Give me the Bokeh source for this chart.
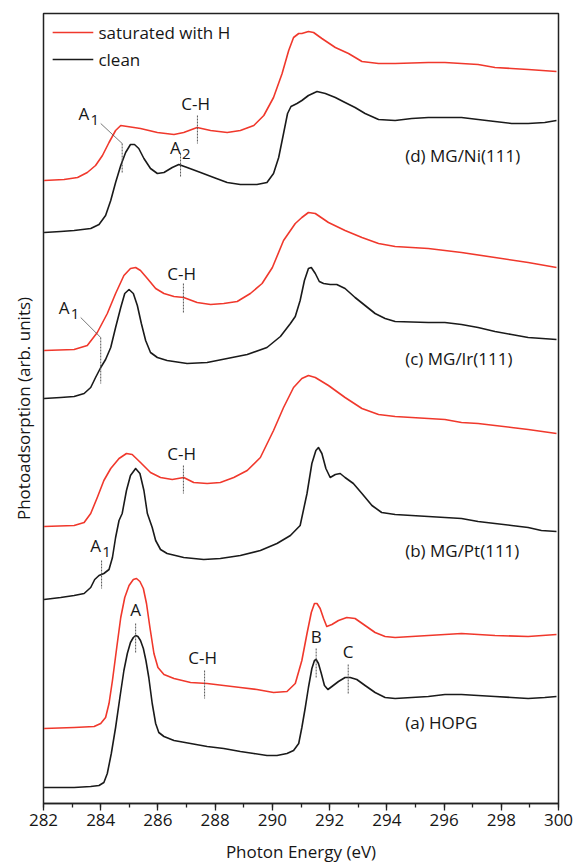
from bokeh.plotting import figure
from bokeh.models import Range1d, FixedTicker
from bokeh.core.properties import value
from bokeh.embed import file_html
from bokeh.resources import INLINE

FONT = "Open Sans"
RED = "#f0382c"
BLACK = "#1a1a1a"
TXT = "#161616"

# ---- spectra: photon energy (eV) and intensity (arb. units, vertically offset per sample) ----
# (d) MG/Ni(111)
d_sat_E = [282.02, 282.72, 283.19, 283.53, 283.82, 284.06, 284.29, 284.52, 284.70, 284.93, 285.39,
           285.98, 286.56, 286.90, 287.37, 287.84, 288.42, 288.88, 289.35, 289.70, 290.04, 290.34,
           290.57, 290.74, 290.92, 291.03, 291.26, 291.44, 291.73, 292.20, 292.66, 293.13, 293.71,
           294.29, 295.45, 296.03, 296.61, 297.19, 297.78, 298.36, 298.94, 299.93]
d_sat_I = [623, 624, 626, 631, 638, 648, 661, 673, 678, 677, 675, 671, 669, 671, 676, 673, 671,
           673, 678, 688, 706, 730, 753, 766, 770, 770, 772, 771, 765, 756, 750, 742, 740, 740,
           741, 741, 740, 739, 736, 735, 734, 732]

d_cln_E = [282.02, 282.60, 283.07, 283.65, 283.94, 284.17, 284.35, 284.52, 284.70, 284.87, 285.04,
           285.18, 285.33, 285.51, 285.74, 285.98, 286.21, 286.50, 286.73, 287.02, 287.49, 287.95,
           288.42, 288.88, 289.46, 289.81, 290.04, 290.22, 290.39, 290.53, 290.65, 290.86, 291.03,
           291.26, 291.56, 291.85, 292.20, 292.54, 292.89, 293.24, 293.71, 294.29, 294.87, 295.45,
           296.03, 296.61, 297.19, 297.78, 298.36, 298.94, 299.52, 299.93]
d_cln_I = [571, 572, 573, 575, 579, 588, 603, 621, 638, 651, 659, 659, 655, 645, 635, 630, 631,
           636, 639, 636, 631, 626, 621, 619, 619, 621, 630, 646, 670, 690, 697, 700, 703, 708,
           712, 710, 706, 701, 696, 690, 684, 683, 685, 686, 686, 686, 684, 682, 680, 680, 681, 683]

# (c) MG/Ir(111)
c_sat_E = [282.02, 283.07, 283.53, 283.88, 284.23, 284.52, 284.81, 285.04, 285.22, 285.39, 285.63,
           285.92, 286.21, 286.56, 286.90, 287.37, 287.84, 288.30, 288.77, 289.23, 289.64, 290.00,
           290.39, 290.80, 291.03, 291.26, 291.50, 291.96, 292.54, 293.13, 293.71, 294.29, 295.45,
           296.61, 297.78, 298.94, 299.93]
c_sat_I = [453, 454, 458, 471, 490, 510, 528, 535, 536, 533, 525, 515, 510, 507, 506, 501, 499,
           500, 502, 510, 520, 536, 563, 580, 586, 591, 590, 581, 573, 566, 560, 557, 555, 551,
           546, 541, 536]

c_cln_E = [282.02, 282.60, 283.07, 283.42, 283.65, 283.82, 284.00, 284.17, 284.35, 284.52, 284.70,
           284.84, 284.99, 285.14, 285.28, 285.42, 285.57, 285.74, 285.98, 286.32, 287.02, 287.72,
           288.42, 289.12, 289.81, 290.28, 290.63, 290.80, 290.97, 291.12, 291.26, 291.36, 291.50,
           291.64, 291.79, 292.02, 292.25, 292.54, 292.89, 293.24, 293.59, 293.94, 294.29, 295.45,
           296.03, 296.61, 297.19, 297.78, 298.36, 298.94, 299.93]
c_cln_I = [405, 406, 407, 410, 416, 426, 436, 444, 456, 476, 496, 510, 514, 510, 498, 480, 463,
           451, 446, 443, 440, 441, 445, 449, 456, 467, 480, 487, 503, 523, 535, 536, 530, 522,
           520, 519, 519, 515, 506, 498, 490, 485, 482, 481, 481, 479, 476, 472, 469, 466, 464]

# (b) MG/Pt(111)
b_sat_E = [282.02, 283.07, 283.42, 283.65, 283.88, 284.11, 284.35, 284.64, 284.90, 285.10, 285.39,
           285.74, 286.09, 286.50, 286.90, 287.25, 287.72, 288.18, 288.65, 289.12, 289.58, 290.04,
           290.39, 290.74, 291.03, 291.26, 291.50, 291.96, 292.54, 293.13, 293.71, 294.29, 294.87,
           295.45, 296.03, 296.61, 297.19, 297.78, 298.36, 298.94, 299.93]
b_sat_I = [277, 278, 281, 290, 306, 323, 335, 345, 350, 349, 341, 331, 326, 324, 326, 321, 320,
           321, 326, 333, 346, 373, 396, 416, 425, 428, 426, 418, 406, 395, 389, 387, 386, 385,
           384, 381, 380, 378, 376, 374, 370]

b_cln_E = [282.02, 282.60, 283.07, 283.42, 283.65, 283.79, 283.94, 284.11, 284.29, 284.41, 284.52,
           284.64, 284.75, 284.90, 285.04, 285.22, 285.37, 285.51, 285.63, 285.80, 285.92, 286.09,
           286.32, 286.90, 287.60, 288.18, 288.88, 289.58, 290.16, 290.63, 290.97, 291.21, 291.38,
           291.52, 291.61, 291.73, 291.87, 292.02, 292.20, 292.37, 292.54, 292.83, 293.13, 293.48,
           293.82, 294.29, 294.87, 295.45, 296.03, 296.61, 297.19, 297.78, 298.36, 298.94, 299.40,
           299.93]
b_cln_I = [204, 206, 208, 210, 216, 224, 228, 230, 234, 246, 266, 283, 290, 313, 328, 335, 330,
           313, 290, 276, 263, 254, 250, 246, 244, 245, 248, 253, 260, 268, 278, 310, 340, 353,
           356, 350, 335, 326, 329, 330, 326, 320, 310, 298, 291, 289, 288, 287, 286, 285, 282,
           280, 278, 276, 273, 272]

# (a) HOPG
a_sat_E = [282.02, 283.07, 283.77, 284.00, 284.17, 284.29, 284.41, 284.56, 284.70, 284.84, 284.99,
           285.14, 285.25, 285.37, 285.49, 285.60, 285.72, 285.86, 286.00, 286.21, 286.56, 287.14,
           287.72, 288.30, 288.88, 289.46, 290.04, 290.51, 290.80, 291.03, 291.21, 291.36, 291.47,
           291.56, 291.67, 291.79, 291.90, 292.08, 292.31, 292.60, 292.89, 293.24, 293.59, 293.94,
           294.29, 295.45, 296.61, 297.78, 298.94, 299.93]
a_sat_I = [75, 76, 77, 80, 86, 100, 123, 156, 186, 206, 218, 224, 225, 222, 215, 200, 176, 150,
           136, 129, 125, 121, 120, 118, 116, 114, 111, 112, 120, 143, 170, 191, 200, 200, 195,
           185, 177, 179, 183, 186, 185, 178, 171, 167, 166, 168, 170, 168, 167, 169]

a_cln_E = [282.02, 283.07, 283.65, 283.94, 284.11, 284.23, 284.37, 284.52, 284.67, 284.81, 284.93,
           285.04, 285.14, 285.22, 285.30, 285.39, 285.49, 285.58, 285.68, 285.80, 285.92, 286.03,
           286.21, 286.56, 287.14, 287.72, 288.30, 288.88, 289.35, 289.81, 290.16, 290.51, 290.74,
           290.92, 291.03, 291.15, 291.26, 291.38, 291.47, 291.53, 291.61, 291.71, 291.82, 291.94,
           292.08, 292.31, 292.54, 292.72, 292.95, 293.24, 293.59, 293.94, 294.29, 294.87, 295.45,
           296.03, 296.61, 297.19, 297.78, 298.36, 298.94, 299.52, 299.93]
a_cln_I = [16, 16, 17, 18, 21, 30, 50, 76, 106, 133, 150, 161, 166, 168, 167, 163, 155, 143, 126,
           100, 80, 71, 67, 63, 60, 57, 55, 52, 50, 48, 48, 50, 53, 60, 76, 96, 116, 135, 143, 144,
           140, 130, 118, 114, 117, 122, 126, 126, 124, 118, 111, 106, 105, 106, 107, 109, 109,
           108, 107, 106, 105, 106, 107]

# ---- sample labels ----
sample_text = ["(d) MG/Ni(111)", "(c) MG/Ir(111)", "(b) MG/Pt(111)", "(a) HOPG"]
sample_x = [294.64, 294.64, 294.64, 294.64]
sample_y = [648, 445, 253, 81]

# ---- legend ----
legend_text = ["saturated with H", "clean"]
legend_colors = [RED, BLACK]
legend_x0 = [282.32, 282.32]
legend_x1 = [283.74, 283.74]
legend_y = [771, 744]
legend_tx = [283.92, 283.92]

# ---- feature annotations ----
ann_text = ["A", "C-H", "A", "A", "C-H", "A", "C-H", "A", "C-H", "B", "C"]
ann_x = [283.41, 287.32, 286.61, 282.72, 286.83, 283.82, 286.83, 285.22, 287.56, 291.53, 292.65]
ann_y = [690, 700, 656, 496, 530, 258, 350, 194, 146, 167, 152]
sub_text = ["1", "2", "1", "1"]
sub_x = [283.41, 286.61, 282.72, 283.82]
sub_y = [690, 656, 496, 258]

# dotted feature markers
mark_x = [284.75, 287.38, 286.79, 284.0, 286.89, 284.03, 286.89, 285.22, 287.63, 291.53, 292.65]
mark_y0 = [660, 688, 650, 466, 520, 243, 338, 180, 133, 155, 139]
mark_y1 = [630, 660, 626, 420, 491, 215, 310, 151, 105, 126, 110]

# leader lines for A1 labels
lead_x0 = [284.0, 283.30]
lead_y0 = [680, 486]
lead_x1 = [284.75, 284.0]
lead_y1 = [660, 466]

x_ticks = [282, 284, 286, 288, 290, 292, 294, 296, 298, 300]
x_minor = list(range(282, 301))

p = figure(width=576, height=865, output_backend="svg", toolbar_location=None,
           x_range=Range1d(282, 300), y_range=Range1d(0, 790))
p.min_border_left = 43
p.min_border_right = 18
p.min_border_top = 13
p.min_border_bottom = 62
p.xgrid.visible = False
p.ygrid.visible = False
p.outline_line_color = "#222222"
p.outline_line_width = 1.5
p.background_fill_color = "white"
p.border_fill_color = "white"

xa = p.xaxis[0]
xa.ticker = FixedTicker(ticks=x_ticks, minor_ticks=x_minor)
xa.axis_line_color = "#222222"
xa.axis_line_width = 1.5
xa.major_tick_out = 7
xa.major_tick_in = 0
xa.minor_tick_out = 4
xa.minor_tick_in = 0
xa.major_tick_line_color = "#222222"
xa.minor_tick_line_color = "#222222"
xa.major_tick_line_width = 1.3
xa.minor_tick_line_width = 1.3
xa.major_label_text_font = FONT
xa.major_label_text_font_size = "17px"
xa.major_label_text_color = TXT
xa.major_label_standoff = 3
xa.axis_label = "Photon Energy (eV)"
xa.axis_label_text_font = FONT
xa.axis_label_text_font_size = "17px"
xa.axis_label_text_font_style = "normal"
xa.axis_label_text_color = TXT
xa.axis_label_standoff = 11

ya = p.yaxis[0]
ya.ticker = FixedTicker(ticks=[])
ya.axis_line_color = None
ya.major_tick_line_color = None
ya.minor_tick_line_color = None
ya.axis_label = "Photoadsorption (arb. units)"
ya.axis_label_text_font = FONT
ya.axis_label_text_font_size = "17px"
ya.axis_label_text_font_style = "normal"
ya.axis_label_text_color = TXT
ya.axis_label_standoff = 9

series = [
    (a_cln_E, a_cln_I, BLACK), (a_sat_E, a_sat_I, RED),
    (b_cln_E, b_cln_I, BLACK), (b_sat_E, b_sat_I, RED),
    (c_cln_E, c_cln_I, BLACK), (c_sat_E, c_sat_I, RED),
    (d_cln_E, d_cln_I, BLACK), (d_sat_E, d_sat_I, RED),
]
for xs, ys, col in series:
    p.line(xs, ys, line_color=col, line_width=1.6, line_join="round")

p.segment(x0=mark_x, y0=mark_y0, x1=mark_x, y1=mark_y1, line_color="#555555",
          line_width=1, line_dash="2 1")
p.segment(x0=lead_x0, y0=lead_y0, x1=lead_x1, y1=lead_y1, line_color="#555555", line_width=0.8)

p.text(x=ann_x, y=ann_y, text=ann_text, text_font=value(FONT), text_font_size=value("17px"),
       text_align="center", text_baseline="middle", text_color=TXT)
p.text(x=sub_x, y=sub_y, text=sub_text, text_font=value(FONT), text_font_size=value("15px"),
       text_align="center", text_baseline="middle", text_color=TXT, x_offset=11, y_offset=6)
p.text(x=sample_x, y=sample_y, text=sample_text, text_font=value(FONT),
       text_font_size=value("17px"), text_align="left", text_baseline="middle", text_color=TXT)

# legend (drawn in the upper-left corner of the frame)
p.segment(x0=legend_x0, y0=legend_y, x1=legend_x1, y1=legend_y, line_color=legend_colors,
          line_width=1.6)
p.text(x=legend_tx, y=legend_y, text=legend_text, text_font=value(FONT),
       text_font_size=value("17px"), text_align="left", text_baseline="middle", text_color=TXT)

open("out.html", "w").write(file_html(p, INLINE))
